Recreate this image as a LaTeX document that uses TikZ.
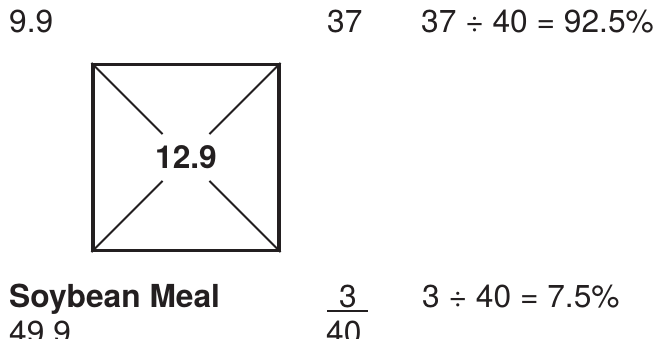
\documentclass[tikz,border=0pt]{standalone}
\usepackage{fontspec}
\setmainfont{TeX Gyre Heros}
\usetikzlibrary{positioning}
\definecolor{inkgray}{RGB}{35,31,32}
\tikzset{
    numtxt/.style={inner sep=0pt, anchor=base west, text=inkgray,
                   font=\fontsize{31.7}{38}\selectfont},
    pearson/.style={rectangle, draw=inkgray, line width=3.2pt,
                    minimum size=186pt, inner sep=0pt},
    midval/.style={circle, inner sep=0pt, minimum size=64pt, text=inkgray,
                   font=\fontsize{31.7}{38}\bfseries},
    diag/.style={draw=inkgray, line width=2pt},
    fracbar/.style={draw=inkgray, line width=1.4pt},
}

\begin{document}
\begin{tikzpicture}[x=1pt, y=-1pt]
    \useasboundingbox (0,0) rectangle (661,339);
    % top row
    \node[numtxt] (corn) at (9,33) {9.9};
    \node[numtxt] (topparts) at (327,33) {37};
    \node[numtxt] (toppct) at (421,33) {37 ÷ 40 = 92.5\%};
    % the square
    \node[pearson] (sq) at (186,157.5) {};
    \node[midval] (mid) at (sq.center) {12.9};
    \foreach \c in {north west, north east, south west, south east}
        \draw[diag] (sq.\c) -- (mid);
    % bottom row
    \node[numtxt, font=\fontsize{31.7}{38}\bfseries] (soy) at (9,307) {Soybean Meal};
    \node[numtxt] (soyval) at (9,343) {49.9};
    \node[numtxt] (botparts) at (339,307) {3};
    \draw[fracbar] (327,311) -- (368,311);
    \node[numtxt] (total) at (326,343) {40};
    \node[numtxt] (botpct) at (422,307) {3 ÷ 40 = 7.5\%};
\end{tikzpicture}
\end{document}
